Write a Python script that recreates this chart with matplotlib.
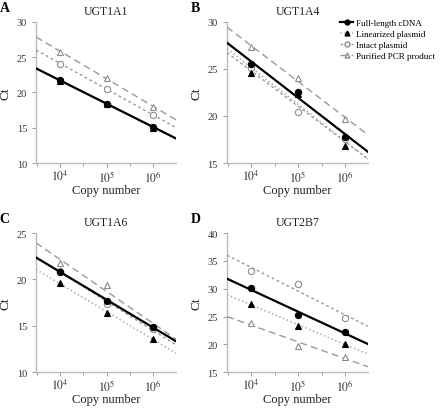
import numpy as np
import matplotlib
matplotlib.use("Agg")
from matplotlib import pyplot as plt
from matplotlib.ticker import FixedLocator, NullFormatter

plt.rcParams['font.family'] = ['Liberation Serif', 'DejaVu Serif']
plt.rcParams['mathtext.fontset'] = 'stix'

copias = [1e4, 1e5, 1e6]
paneles = ['A', 'B', 'C', 'D']
titulos = ['UGT1A1', 'UGT1A4', 'UGT1A6', 'UGT2B7']
limites_y = [(10, 30), (15, 30), (10, 25), (15, 40)]
ticks_y = [[10, 15, 20, 25, 30], [15, 20, 25, 30], [10, 15, 20, 25], [15, 20, 25, 30, 35, 40]]

# Ct (10^4, 10^5, 10^6)
full_length = [[21.7, 18.4, 15.1], [25.5, 22.5, 17.8], [20.85, 17.7, 14.85], [30.1, 25.2, 22.3]]
linearized = [[21.6, 18.4, 15.0], [24.6, 22.3, 16.8], [19.6, 16.35, 13.6], [27.2, 23.3, 20.1]]
intact = [[24.1, 20.5, 16.8], [25.1, 20.4, 17.6], [20.9, 17.4, 14.6], [33.2, 30.8, 24.7]]
pcr_product = [[25.8, 22.0, 18.0], [27.3, 24.0, 19.7], [21.8, 19.4, 14.9], [23.8, 19.7, 17.8]]

series = [
    ('Full-length cDNA', full_length, dict(color='black', ls='-', lw=1.6, marker='o', mfc='black', mec='black', zorder=5)),
    ('Linearized plasmid', linearized, dict(color='#aaaaaa', ls=':', lw=1.1, marker='^', mfc='black', mec='black', zorder=4)),
    ('Intact plasmid', intact, dict(color='#999999', ls=(0, (2, 2)), lw=1.0, marker='o', mfc='white', mec='#8c8c8c', zorder=3)),
    ('Purified PCR product', pcr_product, dict(color='#9a9a9a', ls=(0, (5, 3)), lw=1.0, marker='^', mfc='white', mec='#8c8c8c', zorder=3)),
]

posiciones = [
    [0.082, 0.600, 0.318, 0.344],
    [0.516, 0.600, 0.320, 0.344],
    [0.082, 0.090, 0.318, 0.339],
    [0.516, 0.090, 0.320, 0.339],
]

xmin, xmax = 10 ** 3.48, 10 ** 6.49
lx = np.log10(copias)
xx = np.linspace(np.log10(xmin), np.log10(xmax), 50)

fig = plt.figure(figsize=(4.4, 4.1), dpi=100)

for i in range(4):
    ax = fig.add_axes(posiciones[i])
    for nombre, datos, estilo in series:
        y = datos[i]
        m, b = np.polyfit(lx, y, 1)
        ax.plot(10 ** xx, m * xx + b, color=estilo['color'], ls=estilo['ls'], lw=estilo['lw'], zorder=estilo['zorder'])
        ax.plot(copias, y, ls='none', marker=estilo['marker'], ms=4.5, mfc=estilo['mfc'],
                mec=estilo['mec'], mew=0.8, zorder=estilo['zorder'] + 1)
        if i == 1:
            ax.plot([], [], color=estilo['color'], ls=estilo['ls'], lw=estilo['lw'],
                    marker=estilo['marker'], ms=3.5, mfc=estilo['mfc'], mec=estilo['mec'], label=nombre)

    ax.set_xscale('log')
    ax.set_xlim(xmin, xmax)
    ax.set_ylim(*limites_y[i])
    ax.set_yticks(ticks_y[i])
    ax.xaxis.set_major_locator(FixedLocator(copias))
    ax.xaxis.set_minor_locator(FixedLocator([10 ** 3.5, 10 ** 4.5, 10 ** 5.5, 10 ** 6.5]))
    ax.xaxis.set_minor_formatter(NullFormatter())
    ax.set_xticklabels([r'$10^4$', r'$10^5$', r'$10^6$'])

    for lado in ['top', 'right']:
        ax.spines[lado].set_visible(False)
    for lado in ['left', 'bottom']:
        ax.spines[lado].set_color('#bbbbbb')
        ax.spines[lado].set_linewidth(1.0)
    ax.tick_params(which='both', direction='out', color='#999999', labelcolor='#333333', labelsize=7.5, width=0.7)
    ax.tick_params(which='major', length=3)
    ax.tick_params(which='minor', length=2.5)
    ax.tick_params(axis='x', labelsize=8.5, pad=1)

    ax.set_title(titulos[i], fontsize=8.5, color='#222222', pad=6)
    ax.set_xlabel('Copy number', fontsize=9, color='#222222', labelpad=0)
    ax.set_ylabel('Ct', fontsize=9.5, color='#222222', labelpad=4)
    ax.text(-0.26, 1.08, paneles[i], transform=ax.transAxes, fontsize=10, fontweight='bold')

    if i == 1:
        ax.legend(loc='upper left', bbox_to_anchor=(0.78, 1.05), frameon=False, fontsize=6.5,
                  handlelength=1.4, handletextpad=0.3, labelspacing=0.3, borderaxespad=0)

fig.savefig('out.png', dpi=100)
